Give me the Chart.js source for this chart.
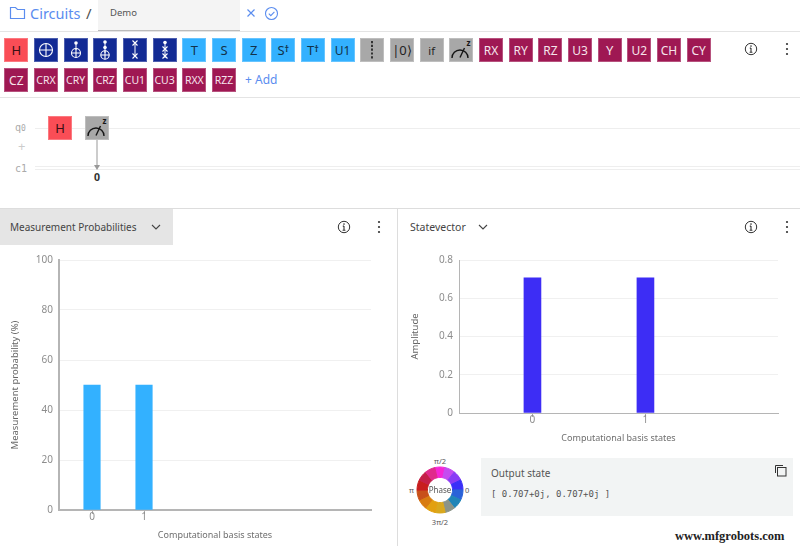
<!DOCTYPE html>
<html><head><meta charset="utf-8">
<script src="https://cdn.jsdelivr.net/npm/chart.js@4"></script>
<style>
html,body{margin:0;padding:0;background:#fff;width:800px;height:546px;overflow:hidden}
body{font-family:"Noto Sans",Roboto,sans-serif;color:#525252;position:relative}
.a{position:absolute}
.g{position:absolute;width:24px;height:24px;box-sizing:border-box;display:flex;align-items:center;justify-content:center;font-size:12px;border:1px solid rgba(255,255,255,.25)}
.g svg{display:block;flex:none}
.g sup{font-size:9px;font-weight:700;line-height:0;position:relative;top:-1px}
canvas{position:absolute}
.line{position:absolute;background:#e4e4e4}
</style></head><body>
<div id="ui"></div>
<canvas id="probChart" style="left:0;top:245px;width:398px;height:296px"></canvas>
<canvas id="stateChart" style="left:399px;top:245px;width:401px;height:199px"></canvas>
<canvas id="phaseChart" style="left:412px;top:462px;width:56px;height:56px;filter:blur(.5px)"></canvas>
<script>
const probStates=[0,1];
const probValues=[50,50];
const ampStates=[0,1];
const ampValues=[0.707,0.707];
const phaseColors=['#f526d6','#c44cf0','#8a3cf5','#3a2ff8','#2a62d8','#1f85b8','#8b9488','#d9a81e','#e2a010','#d87c10','#c8501a','#c81e1e','#c42048','#e02a8c'];
const phaseSizes=[1,1,1,1,1,1,1,1,1,1,1,1,1,1];
const row1=['H','cx','ccx','cccx','sw','csw','T','S','Z','S†','T†','U1','bar','|0⟩','if','meas','RX','RY','RZ','U3','Y','U2','CH','CY'];
const row2=['CZ','CRX','CRY','CRZ','CU1','CU3','RXX','RZZ'];
const blue=new Set(['T','S','Z','S†','T†','U1']);
const grey=new Set(['bar','|0⟩','if','meas']);
const dark=new Set(['cx','ccx','cccx','sw','csw']);
const W='#fff';
const dot=(y)=>`<circle cx="12" cy="${y}" r="1.8" fill="${W}"/>`;
const plus=(y,r)=>`<circle cx="12" cy="${y}" r="${r}" fill="none" stroke="${W}" stroke-width="1.1"/><path d="M${12-r} ${y}H${12+r}M12 ${y-r}V${y+r}" stroke="${W}" stroke-width="1.1"/>`;
const stem=(a,b)=>`<path d="M12 ${a}V${b}" stroke="${W}" stroke-width="1"/>`;
const xx=(y)=>`<path d="M9.5 ${y-2.5}l5 5m0 -5l-5 5" stroke="${W}" stroke-width="1.1"/>`;
const meter=`<svg width="24" height="24" style="margin:-1px"><path d="M3 20A8 8 0 0 1 19 20" fill="none" stroke="#161616" stroke-width="1.4"/><path d="M11 19.5L15.5 10" stroke="#161616" stroke-width="1.4"/><text x="17.5" y="8" font-size="8" font-weight="700" fill="#161616">z</text></svg>`;
const svg24=(s)=>`<svg width="24" height="24" style="margin:-1px">${s}</svg>`;
const icons={
 cx:svg24(plus(12,6.5)),
 ccx:svg24(`${dot(5)}${stem(5,12)}${plus(15,4.5)}`),
 cccx:svg24(`${dot(4)}${dot(9.5)}${stem(4,15)}${plus(17,4.2)}`),
 sw:svg24(`${stem(6,18)}${xx(5)}${xx(18)}`),
 csw:svg24(`${dot(4.5)}${stem(4,20)}${xx(11)}${xx(18)}`),
 bar:svg24(`<path d="M12 3V21" stroke="#161616" stroke-width="1.6" stroke-dasharray="2.2 1.6"/>`),
 meas:meter,
 'S†':'S<sup>†</sup>','T†':'T<sup>†</sup>'
};
let h='';
function gate(name,i,y){
  const x=4.3+29.67*i;
  let bg='#9f1853',fg='#f6e4ec';
  if(name==='H'){bg='#fa4d56';fg='#3a1014';}
  else if(blue.has(name)){bg='#33b1ff';fg='#12324a';}
  else if(grey.has(name)){bg='#a8a8a8';fg='#222';}
  else if(dark.has(name)){bg='#122a94';fg='#fff';}
  let inner=icons[name]||name;
  let fs=name.length>=3&&name!=='|0⟩'?10.5:(name.length==2&&name!=='if'?12:13);
  if(name==='if')fs=11;
  if(name==='S†'||name==='T†')fs=13;
  h+=`<div class="g" style="left:${x}px;top:${y}px;background:${bg};color:${fg};font-size:${fs}px">${inner}</div>`;
}
row1.forEach((n,i)=>gate(n,i,38));
row2.forEach((n,i)=>gate(n,i,68));
const info=(x,y)=>`<svg class="a" style="left:${x}px;top:${y}px" width="14" height="14"><circle cx="7" cy="7" r="5.7" fill="none" stroke="#333" stroke-width="1"/><path d="M7 6V10.2M5.6 10.3H8.4M5.8 6.1H7" stroke="#333" stroke-width="1.1" fill="none"/><circle cx="7" cy="4.1" r=".8" fill="#333"/></svg>`;
const dots=(x,y)=>`<svg class="a" style="left:${x}px;top:${y}px" width="4" height="14"><circle cx="2" cy="2" r="1.1" fill="#333"/><circle cx="2" cy="7" r="1.1" fill="#333"/><circle cx="2" cy="12" r="1.1" fill="#333"/></svg>`;
const chev=(x,y)=>`<svg class="a" style="left:${x}px;top:${y}px" width="10" height="6"><path d="M1 1l4 4 4-4" fill="none" stroke="#444" stroke-width="1.1"/></svg>`;
h+=`
<svg class="a" style="left:9px;top:5px" width="17" height="15"><path d="M1.5 2.5h5l2 2h7v9h-14z" fill="none" stroke="#5b8def" stroke-width="1.2"/></svg>
<div class="a" style="left:30px;top:2px;font-size:14.5px;color:#5b8def;line-height:22px">Circuits</div>
<div class="a" style="left:86px;top:2px;font-size:15px;color:#525252;line-height:22px">/</div>
<div class="a" style="left:98px;top:0;width:142px;height:31px;background:#f4f4f4;border-bottom:1px solid #bbb;box-sizing:border-box"></div>
<div class="a" style="left:110px;top:5px;font-size:9.5px;line-height:15px;color:#555">Demo</div>
<svg class="a" style="left:245px;top:7px" width="12" height="12"><path d="M2.5 2.5l7 7m0-7l-7 7" stroke="#5b8def" stroke-width="1.2"/></svg>
<svg class="a" style="left:264px;top:6px" width="15" height="15"><circle cx="7.5" cy="7.5" r="6" fill="none" stroke="#5b8def" stroke-width="1.1"/><path d="M4.8 7.7l2 2 3.6-3.8" fill="none" stroke="#5b8def" stroke-width="1.1"/></svg>
<div class="line" style="left:0;top:31px;width:800px;height:1px"></div>
<div class="a" style="left:245px;top:71px;font-size:12px;line-height:18px;color:#5b8def">+ Add</div>
<div class="line" style="left:0;top:97px;width:800px;height:1px"></div>
<div class="a" style="left:15px;top:121px;font-size:10px;line-height:14px;color:#aaa;font-family:'DejaVu Sans Mono',monospace">q<span style="font-size:8px">0</span></div>
<div class="a" style="left:18px;top:139px;font-size:13px;line-height:14px;color:#ccc">+</div>
<div class="a" style="left:15px;top:162px;font-size:10px;line-height:14px;color:#aaa;font-family:'DejaVu Sans Mono',monospace">c1</div>
<div class="line" style="left:35px;top:128px;width:765px;height:1px;background:#eee"></div>
<div class="line" style="left:35px;top:166px;width:765px;height:1px;background:#eee"></div>
<div class="line" style="left:35px;top:169px;width:765px;height:1px;background:#eee"></div>
<div class="g" style="left:48px;top:116px;background:#fa4d56;color:#3a1014;font-size:13px">H</div>
<div class="g" style="left:85px;top:116px;background:#a8a8a8">${meter}</div>
<svg class="a" style="left:92px;top:140px" width="12" height="31"><path d="M5 0V27" stroke="#aaa" stroke-width="1.2"/><path d="M2 25h6l-3 5z" fill="#999"/></svg>
<div class="a" style="left:94px;top:170px;font-size:10.5px;font-weight:700;color:#333;line-height:14px">0</div>
<div class="line" style="left:0;top:208px;width:800px;height:1px;background:#ddd"></div>
<div class="a" style="left:0;top:209px;width:173px;height:36px;background:#e5e5e5"></div>
<div class="a" style="left:10px;top:219px;font-size:10px;line-height:16px;color:#444">Measurement Probabilities</div>
${chev(151,224)}${info(337,220)}${dots(377,220)}
<div class="line" style="left:397px;top:209px;width:1px;height:337px;background:#ddd"></div>
<div class="a" style="left:410px;top:219px;font-size:10.5px;line-height:16px;color:#444">Statevector</div>
${chev(478,224)}${info(744,220)}${dots(785,220)}
${info(744,42)}${dots(785,42)}
<div class="a" style="left:481px;top:458px;width:312px;height:58px;background:#f2f4f4"></div>
<div class="a" style="left:491px;top:465px;font-size:10px;line-height:16px;color:#555">Output state</div>
<div class="a" style="left:491px;top:487px;font-size:9px;line-height:14px;color:#555;font-family:'DejaVu Sans Mono',monospace">[ 0.707+0j, 0.707+0j ]</div>
<svg class="a" style="left:774px;top:464px" width="14" height="14"><path d="M1.5 9V1.5H9" fill="none" stroke="#333" stroke-width="1"/><rect x="3.5" y="3.5" width="8.5" height="8.5" fill="none" stroke="#333" stroke-width="1"/></svg>
<div class="a" style="left:425px;top:455px;width:30px;text-align:center;font-size:7.5px;line-height:12px;color:#555">π/2</div>
<div class="a" style="left:425px;top:516px;width:30px;text-align:center;font-size:7.5px;line-height:12px;color:#555">3π/2</div>
<div class="a" style="left:409px;top:484px;font-size:7.5px;line-height:12px;color:#555">π</div>
<div class="a" style="left:465px;top:484px;font-size:7.5px;line-height:12px;color:#555">0</div>
<div class="a" style="left:425px;top:484px;width:30px;text-align:center;font-size:8px;line-height:12px;color:#555;z-index:3">Phase</div>
<div class="a" style="left:675px;top:529px;font-size:12.5px;line-height:14px;color:#222;font-family:'Liberation Serif',serif;font-weight:700;z-index:3;white-space:nowrap">www.mfgrobots.com</div>
`;
document.getElementById('ui').innerHTML=h;

Chart.defaults.font.family='"Noto Sans",Roboto,sans-serif';
Chart.defaults.animation=false;
function barChart(id,states,vals,o){
  return new Chart(document.getElementById(id),{
    type:'bar',
    data:{datasets:[{data:states.map((s,i)=>({x:s,y:vals[i]})),backgroundColor:o.color,barThickness:o.barW,borderWidth:0}]},
    options:{responsive:false,maintainAspectRatio:false,devicePixelRatio:1,
      layout:{padding:{left:0,right:o.right,top:o.top,bottom:0}},
      plugins:{legend:{display:false},tooltip:{enabled:false}},
      scales:{
        x:{type:'linear',offset:false,min:o.xmin,max:o.xmax,
          afterBuildTicks:s=>{s.ticks=states.map(v=>({value:v}));},
          afterFit:s=>{s.height=o.bottom;},
          grid:{offset:false,drawOnChartArea:false,drawTicks:true,tickLength:4,tickColor:'#aaa'},
          border:{color:'#b5b5b5',width:o.axisW},
          ticks:{color:'#8d8d8d',font:{size:10},padding:-3,maxRotation:0,autoSkip:false,callback:v=>String(v)},
          title:{display:true,text:'Computational basis states',color:'#6f6f6f',font:{size:9},padding:{top:0,bottom:0}}},
        y:{min:0,max:o.ymax,
          afterBuildTicks:s=>{s.ticks=o.yticks.map(v=>({value:v}));},
          afterFit:s=>{s.width=o.left;},
          grid:{color:'#f0f0f0',drawTicks:false,lineWidth:1},
          border:{color:'#b5b5b5',width:o.axisW},
          ticks:{color:'#8d8d8d',font:{size:10},padding:6,callback:v=>String(v)},
          title:{display:true,text:o.ytitle,color:'#666',font:{size:9.5},padding:{top:o.titleOffset,bottom:0}}}
      }}});
}
const setSize=(id,w,h)=>{const c=document.getElementById(id);c.width=w;c.height=h;};
setSize('probChart',398,296);setSize('stateChart',401,199);setSize('phaseChart',56,56);
barChart('probChart',probStates,probValues,{color:'#33b1ff',barW:16.5,xmin:-0.635,xmax:5.365,ymax:100,yticks:[0,20,40,60,80,100],left:59,right:27,top:15,bottom:31,axisW:2,titleOffset:10,ytitle:'Measurement probability (%)'});
barChart('stateChart',ampStates,ampValues,{color:'#3d2df5',barW:17,xmin:-0.65,xmax:2.173,ymax:0.8,yticks:[0,0.2,0.4,0.6,0.8],left:60,right:22,top:15,bottom:31,axisW:1,titleOffset:11,ytitle:'Amplitude'});
new Chart(document.getElementById('phaseChart'),{type:'doughnut',
  data:{datasets:[{data:phaseSizes,backgroundColor:phaseColors,borderColor:phaseColors,borderWidth:1}]},
  options:{responsive:false,devicePixelRatio:1,radius:23,cutout:15,rotation:-13,
    plugins:{legend:{display:false},tooltip:{enabled:false}}}});
</script></body></html>
